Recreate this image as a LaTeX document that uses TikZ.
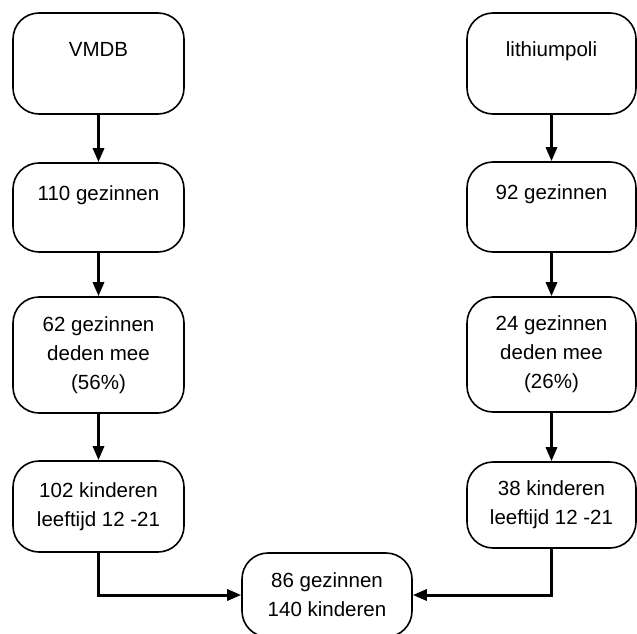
\documentclass[tikz,border=0pt]{standalone}
\usepackage{fontspec}
\setmainfont{Liberation Sans}
\usetikzlibrary{arrows.meta}
\begin{document}
\begin{tikzpicture}[x=1pt,y=-1pt,
  box/.style={draw=black, line width=1.6pt, rounded corners=26pt, inner sep=0pt,
    align=center, font=\fontsize{20.5}{29}\selectfont},
  flow/.style={line width=3pt, -{Triangle[length=14pt,width=11pt]}}]
\useasboundingbox (0,0) rectangle (637,634);
% left column
\node[box, minimum width=171pt, minimum height=101pt] (l1) at (98.5,63.5) {VMDB\\\mbox{}};
\node[box, minimum width=171pt, minimum height=89pt] (l2) at (98.5,207.5) {110 gezinnen\\\mbox{}};
\node[box, minimum width=171pt, minimum height=116pt] (l3) at (98.5,355) {62 gezinnen\\deden mee\\(56\%)};
\node[box, minimum width=171pt, minimum height=91pt] (l4) at (98.5,506.5) {102 kinderen\\leeftijd 12 -21};
% right column
\node[box, minimum width=169pt, minimum height=101pt] (r1) at (551.5,63.5) {lithiumpoli\\\mbox{}};
\node[box, minimum width=169pt, minimum height=90pt] (r2) at (551.5,207) {92 gezinnen\\\mbox{}};
\node[box, minimum width=169pt, minimum height=115pt] (r3) at (551.5,354.5) {24 gezinnen\\deden mee\\(26\%)};
\node[box, minimum width=169pt, minimum height=86pt] (r4) at (551.5,505) {38 kinderen\\leeftijd 12 -21};
% bottom
\node[box, minimum width=170pt, minimum height=84pt] (b) at (327,595) {86 gezinnen\\140 kinderen};
% connectors
\draw[flow] (l1) -- (l2);
\draw[flow] (l2) -- (l3);
\draw[flow] (l3) -- (l4);
\draw[flow] (r1) -- (r2);
\draw[flow] (r2) -- (r3);
\draw[flow] (r3) -- (r4);
\draw[flow] (l4.south) |- (b.west);
\draw[flow] (r4.south) |- (b.east);
\end{tikzpicture}
\end{document}
